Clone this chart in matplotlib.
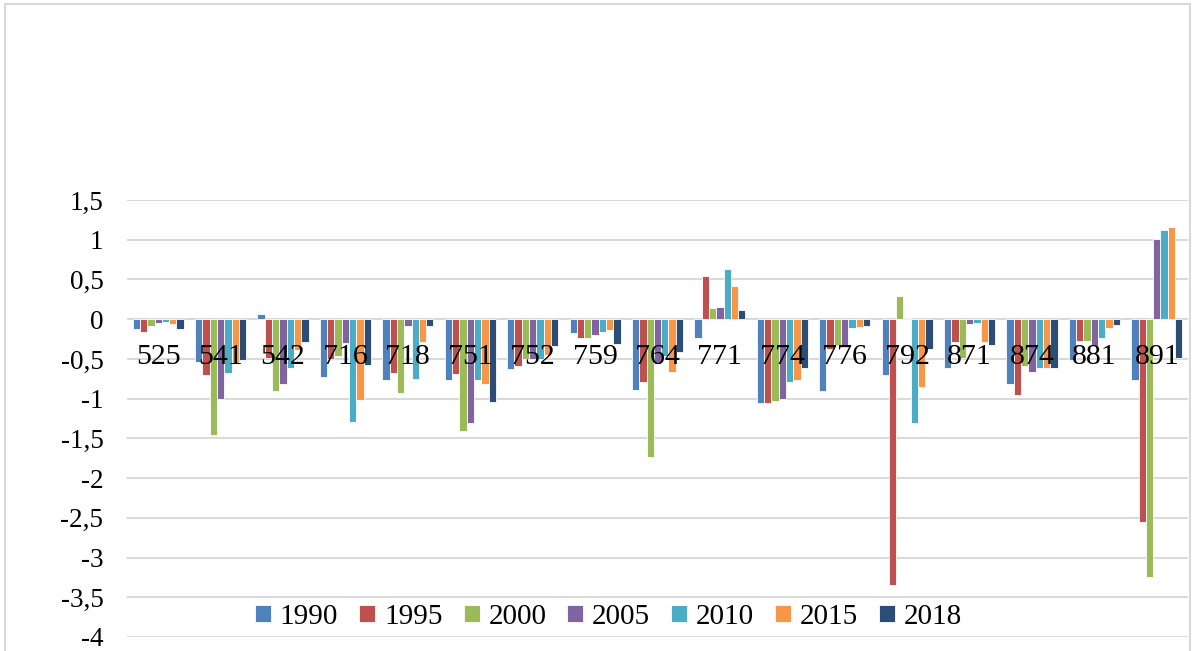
import numpy as np
import matplotlib.pyplot as plt
from matplotlib.patches import Rectangle

# data
categories = ['525', '541', '542', '716', '718', '751', '752', '759', '764',
              '771', '774', '776', '792', '871', '874', '881', '891']
years = ['1990', '1995', '2000', '2005', '2010', '2015', '2018']

v1990 = [-0.12, -0.54, 0.07, -0.73, -0.77, -0.77, -0.63, -0.17, -0.89, -0.24, -1.06, -0.90, -0.70, -0.61, -0.81, -0.51, -0.76]
v1995 = [-0.16, -0.70, -0.49, -0.50, -0.68, -0.69, -0.59, -0.24, -0.79, 0.54, -1.06, -0.38, -3.34, -0.29, -0.96, -0.27, -2.55]
v2000 = [-0.09, -1.46, -0.90, -0.46, -0.93, -1.41, -0.50, -0.24, -1.73, 0.14, -1.03, -0.32, 0.29, -0.49, -0.59, -0.28, -3.24]
v2005 = [-0.05, -1.01, -0.81, -0.30, -0.09, -1.31, -0.50, -0.20, -0.57, 0.15, -1.01, -0.32, 0.02, -0.06, -0.67, -0.34, 1.01]
v2010 = [-0.03, -0.68, -0.62, -1.29, -0.75, -0.77, -0.50, -0.16, -0.46, 0.63, -0.79, -0.11, -1.31, -0.05, -0.61, -0.24, 1.12]
v2015 = [-0.06, -0.57, -0.39, -1.02, -0.29, -0.81, -0.45, -0.14, -0.66, 0.42, -0.76, -0.10, -0.85, -0.29, -0.62, -0.11, 1.16]
v2018 = [-0.12, -0.51, -0.29, -0.58, -0.08, -1.04, -0.34, -0.31, -0.41, 0.11, -0.61, -0.09, -0.37, -0.33, -0.61, -0.07, -0.49]

series = [v1990, v1995, v2000, v2005, v2010, v2015, v2018]
colors = ['#4F81BD', '#C0504D', '#9BBB59', '#8064A2', '#4BACC6', '#F79646', '#2C4D75']

yticks = [1.5, 1, 0.5, 0, -0.5, -1, -1.5, -2, -2.5, -3, -3.5, -4]

plt.rcParams['font.family'] = ['Liberation Serif', 'DejaVu Serif']

fig = plt.figure(figsize=(11.94, 6.51), dpi=100)
ax = fig.add_axes([127 / 1194, 14 / 651, 1061 / 1194, 437 / 651])

x = np.arange(len(categories))
w = 0.117
n = len(series)
for i, (vals, c, yr) in enumerate(zip(series, colors, years)):
    ax.bar(x + (i - (n - 1) / 2) * w, vals, width=w, color=c,
           edgecolor='white', linewidth=0.6, label=yr, zorder=3)

ax.set_xlim(-0.5, len(categories) - 0.5)
ax.set_ylim(-4, 1.5)
ax.set_yticks(yticks)
ax.set_yticklabels([('%g' % t).replace('.', ',') for t in yticks], fontsize=19.5)
ax.tick_params(axis='y', length=0, pad=17)
ax.set_xticks([])
ax.yaxis.grid(True, color='#D9D9D9', linewidth=1.5, zorder=0)
for s in ax.spines.values():
    s.set_visible(False)

# category labels sit just below the zero line, over the bars
for xi, cat in zip(x, categories):
    ax.text(xi, -0.57, cat, ha='center', va='baseline', fontsize=21.5, zorder=5)

leg = ax.legend(loc='center', bbox_to_anchor=(0.454, 0.046), ncol=7, frameon=False,
                fontsize=21, handlelength=0.55, handleheight=0.55,
                handletextpad=0.3, columnspacing=0.72, borderaxespad=0)

# outer chart border
fig.patches.append(Rectangle((5 / 1194, -0.1), 1185 / 1194, 1.1 - 4 / 651,
                             transform=fig.transFigure, fill=False,
                             edgecolor='#D9D9D9', linewidth=1.5))

fig.savefig('out.png', dpi=100)
